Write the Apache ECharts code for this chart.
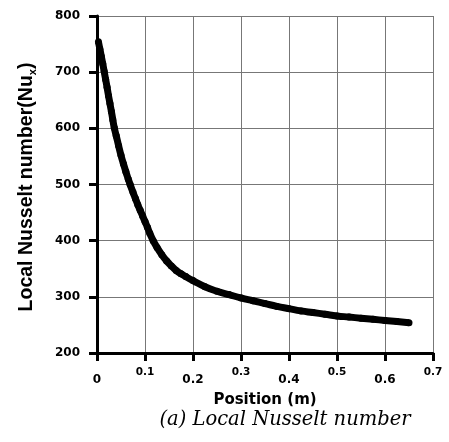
<!DOCTYPE html>
<html>
<head>
<meta charset="utf-8">
<script src="https://cdn.jsdelivr.net/npm/echarts@6/dist/echarts.min.js"></script>
<style>
  html, body { margin: 0; padding: 0; background: #fff; }
  #chart { width: 449px; height: 442px; }
</style>
</head>
<body>
<div id="chart"></div>
<script>
// position along the plate (m) and the local Nusselt number
const positions = [0.003, 0.006, 0.009, 0.012, 0.015, 0.018, 0.021, 0.024, 0.027, 0.030,
  0.033, 0.036, 0.040, 0.045, 0.050, 0.055, 0.060, 0.065, 0.069, 0.075,
  0.080, 0.085, 0.090, 0.095, 0.100, 0.105, 0.110, 0.117, 0.125, 0.135,
  0.145, 0.155, 0.165, 0.175, 0.185, 0.200, 0.225, 0.250, 0.275, 0.300,
  0.325, 0.350, 0.375, 0.400, 0.425, 0.450, 0.475, 0.500, 0.525, 0.550,
  0.575, 0.600, 0.625, 0.650]
const nusselt = [754, 741, 728, 715, 701, 687, 673, 658, 644, 630,
  615, 601, 587, 569, 552, 537, 523, 510, 500, 486,
  475, 464, 454, 444, 434, 424, 413, 400, 388, 375,
  364, 355, 347, 341, 336, 329, 318, 310, 304, 298,
  293, 288, 283, 279, 275, 272, 269, 266, 264, 262,
  260, 258, 256, 254]
const xTicks = [0, 0.1, 0.2, 0.3, 0.4, 0.5, 0.6, 0.7]
const yTicks = [200, 300, 400, 500, 600, 700, 800]

const chart = echarts.init(document.getElementById('chart'))

const font = 'DejaVu Sans, Verdana, sans-serif'

const option = {
  animation: false,
  grid: { left: 97, right: 16, top: 16, bottom: 89 },
  xAxis: {
    type: 'value',
    min: xTicks[0],
    max: xTicks[xTicks.length - 1],
    interval: 0.1,
    name: 'Position (m)',
    nameLocation: 'middle',
    nameGap: 40,
    nameTextStyle: { fontFamily: font, fontWeight: 'bold', fontSize: 15, color: '#000' },
    axisLine: { lineStyle: { color: '#000', width: 3 } },
    axisTick: { length: 8, lineStyle: { color: '#000', width: 3 } },
    axisLabel: {
      margin: 14,
      // labels alternate between a small raised one and a larger lowered one
      formatter: v => {
        const i = xTicks.findIndex(t => Math.abs(t - v) < 1e-6)
        const txt = String(xTicks[i])
        return i % 2 === 1 ? '{hi|' + txt + '}' : '{lo|' + txt + '}'
      },
      rich: {
        hi: { fontFamily: font, fontWeight: 'bold', fontSize: 10.5, color: '#000' },
        lo: { fontFamily: font, fontWeight: 'bold', fontSize: 12, color: '#000', padding: [7, 0, 0, 0] }
      }
    },
    splitLine: { show: true, lineStyle: { color: '#777', width: 1 } }
  },
  yAxis: {
    type: 'value',
    min: yTicks[0],
    max: yTicks[yTicks.length - 1],
    interval: 100,
    axisLine: { show: true, lineStyle: { color: '#000', width: 3 } },
    axisTick: { show: true, length: 8, lineStyle: { color: '#000', width: 3 } },
    axisLabel: { margin: 17, fontFamily: font, fontWeight: 'bold', fontSize: 12, color: '#000' },
    splitLine: { show: true, lineStyle: { color: '#777', width: 1 } }
  },
  graphic: [
    {
      type: 'text',
      x: 15,
      y: 187,
      rotation: Math.PI / 2,
      style: {
        text: 'Local Nusselt number(Nu{sub|x})',
        fontFamily: 'Liberation Sans, Arial, sans-serif',
        fontWeight: 'bold',
        fontSize: 19.5,
        fill: '#000',
        align: 'center',
        verticalAlign: 'top',
        rich: {
          sub: { fontFamily: 'Liberation Sans, Arial, sans-serif', fontWeight: 'bold', fontSize: 11, fill: '#000', padding: [12, 0, 0, 0] }
        }
      }
    },
    {
      type: 'text',
      x: 285,
      y: 420,
      style: {
        text: '(a) Local Nusselt number',
        fontFamily: 'DejaVu Serif, serif',
        fontStyle: 'italic',
        fontSize: 19.5,
        fill: '#000',
        align: 'center',
        verticalAlign: 'middle'
      }
    }
  ],
  series: [
    {
      type: 'line',
      data: positions.map((x, i) => [x, nusselt[i]]),
      symbol: 'circle',
      symbolSize: 7,
      itemStyle: { color: '#000' },
      lineStyle: { color: '#000', width: 7 },
      smooth: true
    }
  ]
}

chart.setOption(option)
</script>
</body>
</html>
